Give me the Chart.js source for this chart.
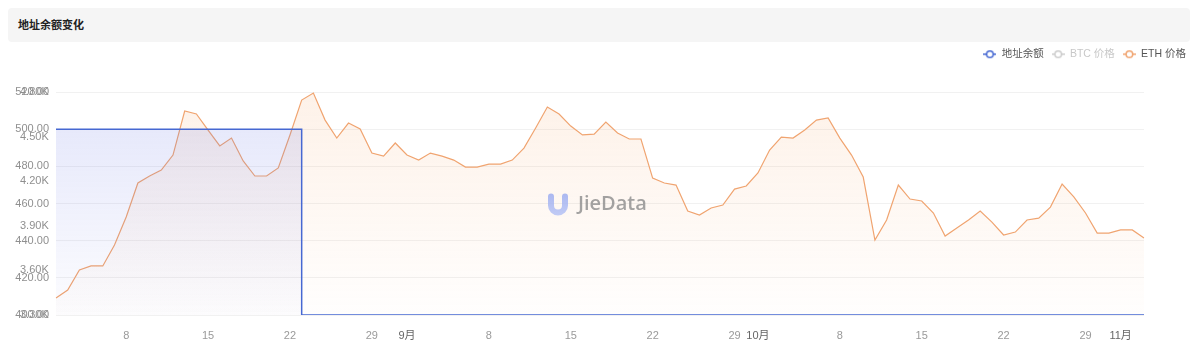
<!DOCTYPE html>
<html><head><meta charset="utf-8">
<script src="https://cdn.jsdelivr.net/npm/chart.js@4.4.1/dist/chart.umd.min.js"></script>
<style>
html,body{margin:0;padding:0;background:#fff;width:1199px;height:359px;overflow:hidden;}
#titlebar{position:absolute;left:8px;top:8px;width:1182px;height:34px;background:#f5f5f5;border-radius:4px;}
#title{position:absolute;left:18px;top:16px;line-height:14px;font:600 11px "Liberation Sans","Noto Sans CJK SC",sans-serif;color:#222;}
#wrap{position:absolute;left:0;top:0;width:1199px;height:359px;}
</style></head><body>
<div id="titlebar"></div><div id="title">地址余额变化</div>
<div id="wrap"><canvas id="c" width="1199" height="359"></canvas></div>
<script>
const dates = [
 '8/2','8/3','8/4','8/5','8/6','8/7','8/8','8/9','8/10','8/11','8/12','8/13','8/14','8/15','8/16','8/17','8/18','8/19','8/20','8/21','8/22','8/23','8/24','8/25','8/26','8/27','8/28','8/29','8/30','8/31',
 '9/1','9/2','9/3','9/4','9/5','9/6','9/7','9/8','9/9','9/10','9/11','9/12','9/13','9/14','9/15','9/16','9/17','9/18','9/19','9/20','9/21','9/22','9/23','9/24','9/25','9/26','9/27','9/28','9/29','9/30',
 '10/1','10/2','10/3','10/4','10/5','10/6','10/7','10/8','10/9','10/10','10/11','10/12','10/13','10/14','10/15','10/16','10/17','10/18','10/19','10/20','10/21','10/22','10/23','10/24','10/25','10/26','10/27','10/28','10/29','10/30','10/31',
 '11/1','11/2','11/3'
];
const balance = [
 500,500,500,500,500,500,500,500,500,500,500,500,500,500,500,500,500,500,500,500,500,
 400,400,400,400,400,400,400,400,400,
 400,400,400,400,400,400,400,400,400,400,400,400,400,400,400,400,400,400,400,400,400,400,400,400,400,400,400,400,400,400,
 400,400,400,400,400,400,400,400,400,400,400,400,400,400,400,400,400,400,400,400,400,400,400,400,400,400,400,400,400,400,400,
 400,400,400
];
const ethPrice = [
 3414,3468,3603,3630,3630,3771,3959,4188,4235,4275,
 4376,4672,4652,4544,4437,4490,4336,4235,4235,4289,
 4511,4746,4793,4611,4490,4591,4551,4389,4369,4457,
 4376,4342,4389,4369,4342,4295,4295,4315,4315,4342,
 4423,4558,4699,4652,4571,4511,4517,4598,4524,4484,
 4484,4221,4188,4174,3999,3972,4020,4040,4147,4168,
 4255,4410,4497,4490,4544,4611,4625,4490,4376,4228,
 3804,3939,4174,4080,4067,3986,3831,3885,3939,3999,
 3925,3838,3858,3939,3952,4026,4181,4094,3986,3851,
 3851,3872,3872,3818
];
const btcPrice = [];
const xTickLabels = {'8/8':'8','8/15':'15','8/22':'22','8/29':'29','9/1':'9月','9/8':'8','9/15':'15','9/22':'22','9/29':'29','10/1':'10月','10/8':'8','10/15':'15','10/22':'22','10/29':'29','11/1':'11月'};
const balanceAxis = {min:400, max:520, step:20};
const ethAxis = {min:3300, max:4800, step:300};

const FONT = '"Liberation Sans","Noto Sans CJK SC",sans-serif';
const BLUE = '#4668d2', ORANGE = '#f0a470', GREY = '#cccccc';

function legendIcon(color){
  const c=document.createElement('canvas'); c.width=13; c.height=10;
  const g=c.getContext('2d'); g.strokeStyle=color; g.lineWidth=1.5;
  g.beginPath(); g.moveTo(0,5); g.lineTo(13,5); g.stroke();
  g.beginPath(); g.arc(6.5,5,3.3,0,Math.PI*2); g.fillStyle='#fff'; g.fill(); g.stroke();
  return c;
}

function grad(ctx, c1, c2){
  const {chart}=ctx; const a=chart.chartArea;
  if(!a) return c2;
  const g=chart.ctx.createLinearGradient(0,a.top,0,a.bottom);
  g.addColorStop(0,c1); g.addColorStop(1,c2); return g;
}

const watermark = {
  id:'watermark',
  afterDatasetsDraw(chart){
    const c=chart.ctx, a=chart.chartArea;
    const cx=(a.left+a.right)/2, cy=(a.top+a.bottom)/2+1;
    c.save();
    const x0=cx-52, y0=cy-11;
    const g=c.createLinearGradient(x0,y0,x0,y0+22);
    g.addColorStop(0,'rgba(150,168,240,0.8)'); g.addColorStop(1,'rgba(178,192,246,0.8)');
    c.strokeStyle=g; c.lineWidth=6; c.lineCap='round';
    c.beginPath(); c.moveTo(x0+3,y0+3); c.lineTo(x0+3,y0+12);
    c.arc(x0+10,y0+12,7,Math.PI,0,true); c.lineTo(x0+17,y0+3); c.stroke();
    c.fillStyle='rgba(140,140,140,0.8)';
    c.font='600 20px "Open Sans","Liberation Sans",sans-serif';
    c.textBaseline='middle'; c.textAlign='left';
    c.fillText('JieData', cx-22, cy);
    c.restore();
  }
};

const legendHeight = {
  id:'legendHeight',
  afterInit(chart){
    const lg=chart.legend; if(!lg) return;
    const f=lg.fit.bind(lg);
    lg.fit=function(){ f(); this.height=51; };
  }
};

const chart = new Chart(document.getElementById('c'), {
  type:'line',
  data:{
    labels:dates,
    datasets:[
      {label:'地址余额', data:balance, yAxisID:'yBal', stepped:true, borderColor:BLUE, borderWidth:1.5,
       pointRadius:0, fill:'start', order:1, legendColor:BLUE,
       backgroundColor:ctx=>grad(ctx,'rgba(98,112,228,0.18)','rgba(98,112,228,0.02)')},
      {label:'BTC 价格', data:btcPrice, yAxisID:'yBtc', hidden:true, borderColor:GREY, pointRadius:0, legendColor:GREY},
      {label:'ETH 价格', data:ethPrice, yAxisID:'yEth', borderColor:ORANGE, borderWidth:1.2, pointRadius:0,
       tension:0, fill:'start', order:2, legendColor:ORANGE,
       backgroundColor:ctx=>grad(ctx,'rgba(245,160,95,0.14)','rgba(245,160,95,0.01)')}
    ]
  },
  options:{
    responsive:false, animation:false,
    layout:{padding:{top:41,left:0,right:5,bottom:14}},
    plugins:{
      tooltip:{enabled:false},
      legend:{
        position:'top', align:'end',
        labels:{
          usePointStyle:true, pointStyleWidth:13, boxHeight:10, padding:8,
          font:{size:10.5, family:FONT},
          generateLabels(chart){
            return chart.data.datasets.map((ds,i)=>({
              text:ds.label, pointStyle:legendIcon(ds.legendColor), fillStyle:'#fff',
              strokeStyle:ds.legendColor, lineWidth:0, hidden:false, datasetIndex:i,
              fontColor: ds.hidden ? '#c8c8c8' : '#555'
            }));
          }
        }
      }
    },
    scales:{
      x:{type:'category', offset:false,
         grid:{display:false, drawTicks:false}, border:{display:false},
         ticks:{autoSkip:false, maxRotation:0, padding:14, font:{size:11, family:FONT},
           color:ctx=>{const t=xTickLabels[dates[ctx.index]]||''; return t.indexOf('月')>=0?'#666':'#9a9a9a';},
           callback:(v,i)=>xTickLabels[dates[i]]||''},
         afterFit(s){s.height=30;}},
      yBal:{position:'left', weight:1, min:balanceAxis.min, max:balanceAxis.max,
         ticks:{stepSize:balanceAxis.step, padding:7, color:'#8f8f8f', font:{size:11, family:FONT}, callback:v=>v.toFixed(2)},
         grid:{color:'#f1f1f1', drawTicks:false}, border:{display:false},
         afterFit(s){s.width=56;}},
      yEth:{position:'left', weight:0, min:ethAxis.min, max:ethAxis.max,
         ticks:{stepSize:ethAxis.step, mirror:true, crossAlign:'near', padding:-36, color:'#8f8f8f', font:{size:11, family:FONT}, callback:v=>(v/1000).toFixed(2)+'K'},
         grid:{display:false, drawTicks:false}, border:{display:false},
         afterFit(s){s.width=0;}},
      yBtc:{position:'right', display:true,
         ticks:{display:false}, grid:{display:false, drawTicks:false}, border:{display:false},
         afterFit(s){s.width=50;}}
    }
  },
  plugins:[watermark, legendHeight]
});
</script>
</body></html>
